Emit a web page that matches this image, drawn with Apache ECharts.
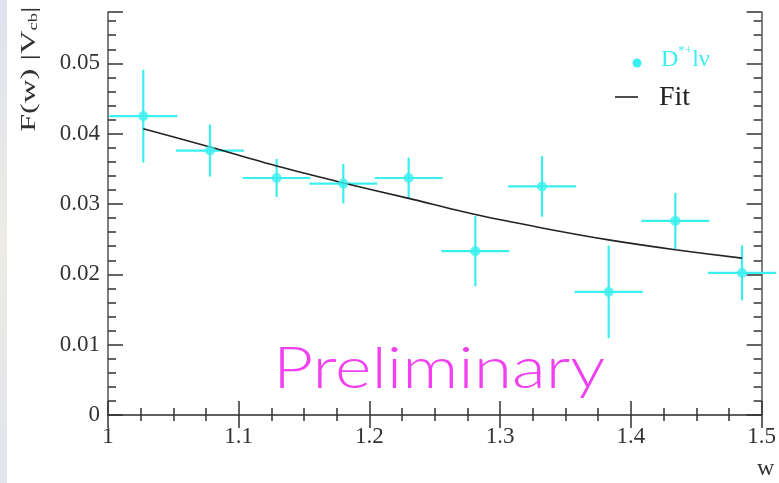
<!DOCTYPE html>
<html>
<head>
<meta charset="utf-8">
<script src="https://cdn.jsdelivr.net/npm/echarts@6/dist/echarts.min.js"></script>
<style>
  html, body { margin: 0; padding: 0; background: #fff; }
  #chart { width: 779px; height: 483px; }
</style>
</head>
<body>
<div id="chart"></div>
<script>
// Measured form factor times |Vcb| in bins of w, with the fitted curve
const wCenters = [1.027, 1.078, 1.129, 1.180, 1.230, 1.281, 1.332, 1.383, 1.434, 1.485];
const wHalfWidth = [0.026, 0.026, 0.026, 0.026, 0.026, 0.026, 0.026, 0.026, 0.026, 0.026];
const fVcb = [0.0425, 0.0376, 0.0337, 0.0329, 0.0337, 0.0233, 0.0325, 0.0175, 0.0276, 0.0202];
const fVcbErr = [0.0066, 0.0037, 0.0027, 0.0028, 0.0029, 0.0050, 0.0043, 0.0066, 0.0040, 0.0039];
const fitW = [1.027, 1.078, 1.129, 1.180, 1.230, 1.281, 1.332, 1.383, 1.434, 1.485];
const fitVal = [0.0407, 0.0381, 0.0354, 0.0330, 0.0308, 0.0285, 0.0266, 0.0249, 0.0235, 0.0223];
const xTicks = [1, 1.1, 1.2, 1.3, 1.4, 1.5];
const yTicks = [0, 0.01, 0.02, 0.03, 0.04, 0.05];

const CYAN = '#3cefef';
const serif = "'Liberation Serif', 'DejaVu Serif', serif";

const points = wCenters.map((w, i) => [w, fVcb[i], wHalfWidth[i], fVcbErr[i]]);
const fitLine = fitW.map((w, i) => [w, fitVal[i]]);

const chart = echarts.init(document.getElementById('chart'), null, { renderer: 'canvas' });

const tickFmt = (list) => (v) => {
  const hit = list.find(t => Math.abs(t - v) < 1e-9);
  return hit === undefined ? '' : String(hit);
};

const axisCommon = {
  axisLine: { lineStyle: { color: '#555', width: 1.5 } },
  splitLine: { show: false },
};

chart.setOption({
  backgroundColor: '#fff',
  animation: false,
  grid: { left: 108, right: 12, top: 12, bottom: 68 },
  xAxis: [
    Object.assign({}, axisCommon, {
      type: 'value', min: 1, max: 1.5, interval: 0.1, position: 'bottom',
      axisTick: { inside: true, length: 14, lineStyle: { color: '#333', width: 1.5 } },
      minorTick: { show: true, splitNumber: 4, length: 7, lineStyle: { color: '#333', width: 1.5 } },
      axisLabel: { margin: 10, fontFamily: serif, fontSize: 23, color: '#333', formatter: tickFmt(xTicks) }
    }),
    Object.assign({}, axisCommon, {
      type: 'value', min: 1, max: 1.5, interval: 0.1, position: 'top',
      axisTick: { inside: true, length: 13, lineStyle: { color: '#333', width: 1.5 } },
      minorTick: { show: true, splitNumber: 4, length: 6, lineStyle: { color: '#333', width: 1.5 } },
      axisLabel: { show: false }
    })
  ],
  yAxis: [
    Object.assign({}, axisCommon, {
      type: 'value', min: 0, max: 0.0573, interval: 0.01, position: 'left',
      axisTick: { inside: true, length: 15, lineStyle: { color: '#333', width: 1.5 } },
      minorTick: { show: true, splitNumber: 5, length: 8, lineStyle: { color: '#333', width: 1.5 } },
      axisLabel: { margin: 8, fontFamily: serif, fontSize: 23, color: '#333', formatter: tickFmt(yTicks) }
    }),
    Object.assign({}, axisCommon, {
      type: 'value', min: 0, max: 0.0573, interval: 0.01, position: 'right',
      axisTick: { inside: true, length: 15, lineStyle: { color: '#333', width: 1.5 } },
      minorTick: { show: true, splitNumber: 5, length: 8, lineStyle: { color: '#333', width: 1.5 } },
      axisLabel: { show: false }
    })
  ],
  series: [
    {
      name: 'errors',
      type: 'custom',
      xAxisIndex: 0, yAxisIndex: 0,
      clip: false,
      data: points,
      renderItem: function (params, api) {
        const x = api.value(0), y = api.value(1), dx = api.value(2), dy = api.value(3);
        const l = api.coord([x - dx, y]);
        const r = api.coord([x + dx, y]);
        const t = api.coord([x, y + dy]);
        const b = api.coord([x, y - dy]);
        const st = { stroke: CYAN, lineWidth: 2.2 };
        return {
          type: 'group',
          children: [
            { type: 'line', shape: { x1: l[0], y1: l[1], x2: r[0], y2: r[1] }, style: st },
            { type: 'line', shape: { x1: t[0], y1: t[1], x2: b[0], y2: b[1] }, style: st }
          ]
        };
      },
      z: 3
    },
    {
      name: 'Fit',
      type: 'line',
      data: fitLine,
      smooth: 0.3,
      symbol: 'none',
      lineStyle: { color: '#222', width: 1.6 },
      z: 4
    },
    {
      name: 'D*+lν',
      type: 'scatter',
      data: points.map(p => [p[0], p[1]]),
      symbol: 'circle',
      symbolSize: 10,
      itemStyle: { color: CYAN },
      z: 5
    }
  ],
  graphic: [
    // faint strip along the left border
    { type: 'rect', left: 0, top: 0, shape: { width: 7, height: 483 },
      style: { fill: new echarts.graphic.LinearGradient(0, 0, 0, 1, [
        { offset: 0, color: '#dfe2ee' }, { offset: 0.5, color: '#ecebe4' }, { offset: 1, color: '#e2e4ec' }]) },
      z: 0 },
    // y-axis title, stretched along its length
    { type: 'text', x: 40, y: 132, rotation: Math.PI / 2, scaleX: 1.55,
      style: {
        text: 'F(w) |V{s|cb}|',
        fill: '#333',
        font: "21px 'Liberation Serif', serif",
        align: 'left', verticalAlign: 'bottom',
        rich: {
          s: { fontSize: 12, fontFamily: serif, fill: '#333', verticalAlign: 'bottom', lineHeight: 10 }
        }
      }, z: 10 },
    // x-axis title
    { type: 'text', x: 757, y: 481,
      style: { text: 'w', fill: '#333', font: "24px 'Liberation Serif', serif", align: 'left', verticalAlign: 'bottom' }, z: 10 },
    // legend
    { type: 'circle', shape: { cx: 637, cy: 63, r: 4.5 }, style: { fill: CYAN }, z: 10 },
    { type: 'text', x: 661, y: 76,
      style: {
        text: 'D{p|*+}lν',
        fill: CYAN,
        font: "24px 'Liberation Serif', serif",
        align: 'left', verticalAlign: 'bottom',
        rich: { p: { fontSize: 13, fontFamily: serif, fill: CYAN, verticalAlign: 'top', lineHeight: 32 } }
      }, z: 10 },
    { type: 'line', shape: { x1: 615, y1: 97, x2: 638, y2: 97 }, style: { stroke: '#222', lineWidth: 1.6 }, z: 10 },
    { type: 'text', x: 659, y: 112,
      style: { text: 'Fit', fill: '#222', font: "28px 'Liberation Serif', serif", align: 'left', verticalAlign: 'bottom' }, z: 10 },
    // watermark
    { type: 'text', x: 273, y: 369, scaleX: 1.2,
      style: { text: 'Preliminary', fill: '#f040f0',
        font: "300 58px Lato, Roboto, sans-serif", align: 'left', verticalAlign: 'middle' }, z: 10 }
  ]
});
</script>
</body>
</html>
